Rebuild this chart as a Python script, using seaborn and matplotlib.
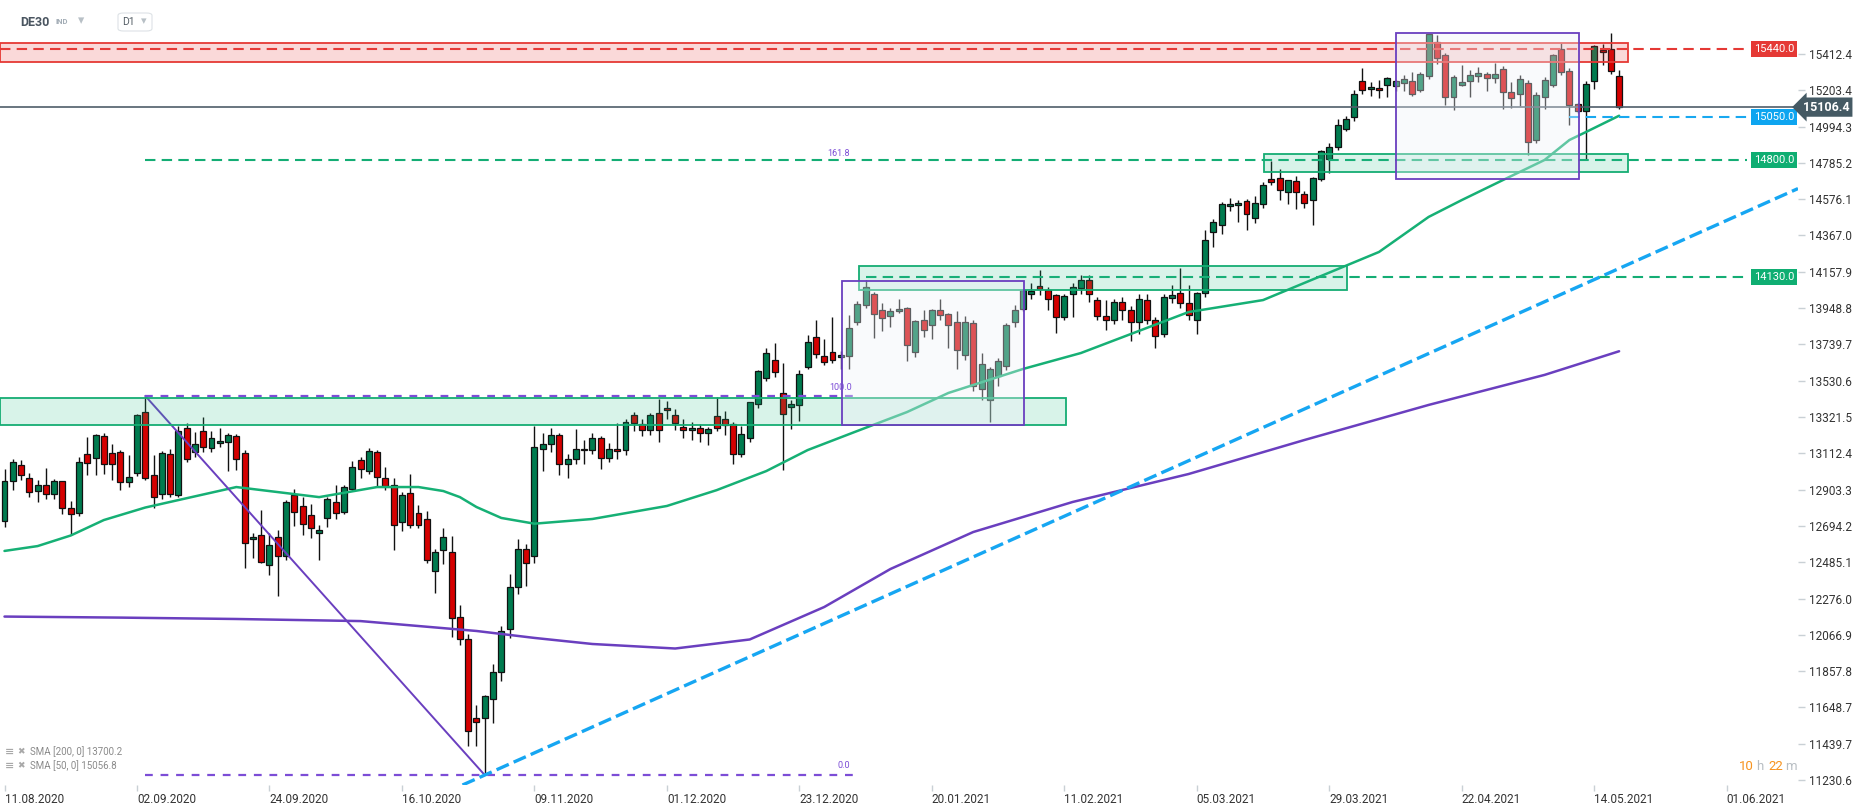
import numpy as np
import pandas as pd
import matplotlib
matplotlib.use('Agg')
import matplotlib.pyplot as plt
from matplotlib.patches import Rectangle, FancyBboxPatch
import seaborn as sns

# ---- daily candles DE30, 11.08.2020 .. 19.05.2021 ----
opens = [
    12720, 12950, 13045, 12970, 12895, 12930, 12880, 12950, 12800, 12770,
    13108, 13085, 13212, 13114, 13120, 12945, 12997, 13350, 12985, 12880,
    13108, 12875, 13258, 13120, 13240, 13143, 13172, 13177, 13212, 13114,
    12618, 12641, 12469, 12630, 12521, 12872, 12809, 12757, 12653, 12740,
    12832, 12774, 12907, 13074, 13010, 13120, 12970, 12930, 12716, 12884,
    12769, 12734, 12434, 12555, 12544, 12170, 12040, 11587, 11587, 11700,
    11850, 12100, 12340, 12560, 12520, 13140, 13165, 13216, 13052, 13077,
    13139, 13134, 13202, 13087, 13137, 13130, 13333, 13281, 13246, 13344,
    13373, 13333, 13264, 13246, 13258, 13230, 13327, 13310, 13281, 13110,
    13200, 13396, 13546, 13650, 13460, 13379, 13390, 13610, 13782, 13673,
    13696, 13667, 13673, 13869, 13966, 14030, 13938, 13903, 13932, 13950,
    13696, 13880, 13852, 13938, 13915, 13869, 13679, 13863, 13480, 13420,
    13560, 13615, 13869, 13944, 14030, 14076, 14053, 14024, 13897, 14030,
    14065, 14111, 13995, 13905, 13880, 13985, 13940, 13870, 13995, 13880,
    13800, 14007, 14036, 13980, 13880, 14036, 14387, 14427, 14537, 14543,
    14566, 14468, 14548, 14692, 14698, 14617, 14681, 14606, 14571, 14692,
    14808, 14877, 14980, 15050, 15257, 15211, 15216, 15234, 15228, 15245,
    15257, 15205, 15286, 15481, 15407, 15165, 15234, 15257, 15286, 15297,
    15274, 15326, 15193, 15182, 15245, 14917, 15165, 15234, 15441, 15315,
    15124, 15084, 15257, 15435, 15441, 15286]

highs = [
    13022, 13080, 13075, 13000, 12960, 13028, 12965, 12955, 12840, 13090,
    13205, 13224, 13230, 13166, 13131, 13102, 13340, 13443, 13102, 13125,
    13140, 13269, 13286, 13235, 13321, 13240, 13258, 13229, 13224, 13130,
    12653, 12786, 12653, 12670, 12843, 12907, 12861, 12820, 12700, 12860,
    12930, 12930, 13068, 13090, 13143, 13131, 13033, 12970, 12890, 12994,
    12815, 12780, 12560, 12682, 12636, 12238, 12070, 11660, 11720, 11900,
    12120, 12420, 12620, 12590, 13271, 13230, 13260, 13230, 13110, 13252,
    13190, 13230, 13210, 13170, 13287, 13310, 13350, 13310, 13344, 13425,
    13413, 13367, 13310, 13290, 13281, 13264, 13437, 13356, 13290, 13270,
    13410, 13592, 13719, 13748, 13633, 13420, 13592, 13794, 13880, 13771,
    13897, 13700, 13909, 13990, 14111, 14040, 13978, 13950, 14001, 13955,
    13880, 13938, 13945, 13999, 13920, 13932, 13903, 13880, 13690, 13610,
    13662, 13862, 13966, 14060, 14094, 14168, 14070, 14030, 14030, 14094,
    14140, 14140, 14010, 13995, 14000, 14010, 13960, 14030, 14030, 13900,
    14030, 14082, 14180, 14082, 14040, 14399, 14462, 14560, 14583, 14570,
    14577, 14595, 14675, 14796, 14750, 14687, 14710, 14623, 14704, 14860,
    14900, 15038, 15055, 15205, 15332, 15251, 15263, 15280, 15265, 15291,
    15309, 15310, 15527, 15522, 15420, 15290, 15349, 15320, 15337, 15310,
    15360, 15343, 15251, 15290, 15263, 15193, 15280, 15412, 15476, 15330,
    15130, 15257, 15464, 15470, 15533, 15320]

lows = [
    12690, 12900, 12960, 12860, 12830, 12850, 12850, 12760, 12640, 12750,
    12990, 12988, 12995, 12960, 12900, 12920, 12982, 12960, 12800, 12850,
    12860, 12860, 13060, 13090, 13120, 13120, 13148, 13010, 13016, 12452,
    12509, 12480, 12412, 12290, 12500, 12694, 12642, 12624, 12498, 12688,
    12734, 12763, 12895, 12970, 12993, 12918, 12900, 12555, 12665, 12680,
    12682, 12480, 12307, 12475, 12054, 12010, 11426, 11426, 11259, 11560,
    11800, 12050, 12300, 12350, 12480, 13010, 13120, 12990, 12970, 13050,
    13050, 13110, 13020, 13060, 13080, 13100, 13240, 13210, 13220, 13180,
    13310, 13246, 13200, 13190, 13180, 13160, 13240, 13220, 13050, 13090,
    13180, 13373, 13530, 13550, 13016, 13250, 13298, 13600, 13661, 13620,
    13630, 13600, 13600, 13850, 13950, 13776, 13817, 13840, 13920, 13644,
    13667, 13782, 13770, 13880, 13719, 13600, 13650, 13470, 13420, 13290,
    13500, 13590, 13840, 13930, 14001, 14024, 13938, 13805, 13880, 13897,
    14030, 13984, 13880, 13820, 13860, 13880, 13760, 13800, 13860, 13720,
    13780, 13980, 13950, 13880, 13800, 14010, 14300, 14376, 14508, 14445,
    14399, 14440, 14525, 14658, 14571, 14549, 14520, 14525, 14428, 14681,
    14727, 14860, 14969, 15026, 15182, 15170, 15159, 15165, 15200, 15199,
    15170, 15193, 15268, 15355, 15119, 15090, 15228, 15165, 15251, 15199,
    15245, 15096, 15101, 15113, 14830, 14900, 15096, 15220, 15290, 15003,
    15070, 14802, 15211, 15349, 15300, 15095]

closes = [
    12950, 13060, 12985, 12890, 12930, 12880, 12950, 12800, 12760, 13062,
    13056, 13218, 13050, 13050, 12945, 12976, 13333, 12970, 12860, 13113,
    12880, 13241, 13079, 13166, 13148, 13200, 13183, 13218, 13079, 12596,
    12630, 12486, 12584, 12521, 12832, 12774, 12705, 12682, 12670, 12849,
    12769, 12918, 13033, 13022, 13126, 12976, 12924, 12700, 12872, 12700,
    12700, 12498, 12544, 12630, 12164, 12040, 11512, 11564, 11714, 11850,
    12090, 12340, 12560, 12480, 13150, 13165, 13216, 13052, 13077, 13139,
    13134, 13202, 13087, 13137, 13127, 13293, 13287, 13246, 13333, 13246,
    13362, 13287, 13246, 13258, 13230, 13250, 13258, 13275, 13110, 13223,
    13408, 13586, 13690, 13581, 13339, 13396, 13569, 13753, 13684, 13638,
    13650, 13679, 13834, 13972, 14069, 13915, 13892, 13932, 13944, 13736,
    13874, 13823, 13938, 13909, 13852, 13707, 13869, 13500, 13627, 13597,
    13644, 13850, 13938, 14053, 14047, 14059, 14001, 13897, 14018, 14070,
    14111, 14030, 13905, 13880, 13985, 13940, 13870, 13999, 13880, 13790,
    14012, 14024, 13980, 13910, 14036, 14341, 14444, 14548, 14548, 14554,
    14491, 14554, 14658, 14675, 14629, 14687, 14618, 14554, 14698, 14854,
    14877, 15003, 15038, 15182, 15205, 15222, 15205, 15274, 15257, 15268,
    15182, 15297, 15527, 15389, 15165, 15280, 15251, 15291, 15303, 15274,
    15297, 15193, 15159, 15268, 14906, 15176, 15263, 15407, 15309, 15119,
    15084, 15240, 15458, 15424, 15315, 15106.4]

# moving averages read at some bars
sma50_bar = [0, 4, 8, 12, 17, 21, 28, 38, 45, 50, 53, 55, 57, 60, 64, 71, 80, 86, 92,
             97, 103, 109, 114, 123, 130, 143, 152, 166, 172, 176, 181, 186, 189, 191, 195]
sma50_val = [12550, 12578, 12639, 12728, 12800, 12843, 12918, 12860, 12918, 12918, 12895,
             12860, 12803, 12740, 12707, 12734, 12809, 12900, 13010, 13131, 13241, 13350,
             13460, 13598, 13690, 13926, 13995, 14272, 14474, 14571, 14687, 14802, 14917,
             14963, 15056.8]
sma200_bar = [0, 14, 28, 43, 57, 64, 71, 81, 90, 99, 107, 117, 129, 143, 157, 172, 186, 195]
sma200_val = [12172, 12166, 12158, 12146, 12089, 12049, 12014, 11988, 12040, 12227, 12446,
              12659, 12832, 12993, 13189, 13391, 13564, 13700.2]

tick_bars = [0, 16, 32, 48, 64, 80, 96, 112, 128, 144, 160, 176, 192, 208]
tick_dates = ['11.08.2020', '02.09.2020', '24.09.2020', '16.10.2020', '09.11.2020',
              '01.12.2020', '23.12.2020', '20.01.2021', '11.02.2021', '05.03.2021',
              '29.03.2021', '22.04.2021', '14.05.2021', '01.06.2021']
price_ticks = [15412.4, 15203.4, 14994.3, 14785.2, 14576.1, 14367.0, 14157.9, 13948.8,
               13739.7, 13530.6, 13321.5, 13112.4, 12903.3, 12694.2, 12485.1, 12276.0,
               12066.9, 11857.8, 11648.7, 11439.7, 11230.6]

levels = [15440.0, 15050.0, 14800.0, 14130.0]
last_price = 15106.4
trend_pts = [(58, 11259), (216.5, 14635)]

# zones (price ranges) and boxes
red_zone = (15366, 15476)
green_zone_hi = (14733, 14836)
green_zone_mid = (14053, 14191)
green_zone_lo = (13275, 13431)
box1 = (101.1, 123.1, 13275, 14105)
box2 = (168.1, 190.2, 14692, 15533)

# ---------------------------------------------------------------
sns.set_theme(style='white')
plt.rcParams['font.family'] = ['Roboto', 'DejaVu Sans']

W, H = 1866, 811
fig = plt.figure(figsize=(W / 100, H / 100), dpi=100)
ax = fig.add_axes([0, 1 - 785 / H, 1798 / W, (785 - 27) / H])

BAR = 8.28
def bx(px):
    return (px - 4.5) / BAR

def py(y):
    # pixel row -> price, only for placing small texts
    return 15723.4 - 5.76 * y

df = pd.DataFrame({'o': opens, 'h': highs, 'l': lows, 'c': closes})
df['i'] = np.arange(len(df))
up = df.c >= df.o
GREEN, RED = '#007b4f', '#d50000'

ax.vlines(df.i, df.l, df.h, color='#111111', lw=1.0, zorder=3)
body_lo = np.minimum(df.o, df.c)
body_h = np.maximum((df.c - df.o).abs(), 5)
ax.bar(df.i, body_h, bottom=body_lo, width=0.72, color=np.where(up, GREEN, RED),
       edgecolor='#111111', linewidth=0.9, zorder=3)

sns.lineplot(x=sma200_bar, y=sma200_val, ax=ax, color='#6a3fbf', lw=1.8, zorder=3.5)
sns.lineplot(x=sma50_bar, y=sma50_val, ax=ax, color='#16b075', lw=1.8, zorder=3.5)

x_end = bx(1747)
# fib
fib_hi, fib_lo = highs[17], lows[58]
ax.plot([17, 58], [fib_hi, fib_lo], color='#6a3fbf', lw=1.4, zorder=4)
for lv in [fib_hi, fib_lo]:
    ax.plot([17, bx(858)], [lv, lv], color='#7c4dd6', lw=1.6, dashes=(3.5, 3.5), zorder=4)
ax.text(bx(829), py(387), '100.0', color='#7c4dd6', fontsize=6.5, va='center', zorder=9)
ax.text(bx(838), py(766), '0.0', color='#7c4dd6', fontsize=6.5, va='center', zorder=9)
ax.text(bx(827), py(153), '161.8', color='#7c4dd6', fontsize=6.5, va='center', zorder=9)

# trend line
ax.axline(trend_pts[0], trend_pts[1], color='#16a6f2', lw=2.4, dashes=(4, 1.6), zorder=4)

# horizontal levels
ax.plot([bx(0), x_end], [levels[0]] * 2, color='#e53935', lw=1.5, dashes=(5, 3), zorder=4)
ax.plot([bx(1569), x_end], [levels[1]] * 2, color='#18a8f0', lw=1.5, dashes=(5, 3), zorder=4)
ax.plot([17, x_end], [levels[2]] * 2, color='#14ad74', lw=1.5, dashes=(5, 3), zorder=4)
ax.plot([bx(866), x_end], [levels[3]] * 2, color='#14ad74', lw=1.5, dashes=(5, 3), zorder=4)
ax.axhline(last_price, color='#4f5d69', lw=1.2, zorder=4)

# zones and boxes on top of candles
def zone(x0, x1, lo, hi, fc, ec, a):
    ax.add_patch(Rectangle((x0, lo), x1 - x0, hi - lo, facecolor=fc, alpha=a,
                           edgecolor='none', zorder=5))
    ax.add_patch(Rectangle((x0, lo), x1 - x0, hi - lo, facecolor='none',
                           edgecolor=ec, lw=1.3, zorder=5))

zone(bx(0), bx(1628), *red_zone, '#e84545', '#e53935', 0.2)
zone(bx(1264), bx(1628), *green_zone_hi, '#2bbd86', '#15ad73', 0.18)
zone(bx(859), bx(1347), *green_zone_mid, '#2bbd86', '#15ad73', 0.18)
zone(bx(0), bx(1066), *green_zone_lo, '#2bbd86', '#15ad73', 0.18)
for b in [box1, box2]:
    zone(b[0], b[1], b[2], b[3], '#eef1f8', '#6a3fbf', 0.35)

# level labels
for lv, col in zip(levels, ['#e53935', '#0ea5f0', '#0fae72', '#0fae72']):
    ax.text(bx(1774), lv, f'{lv:.1f}', ha='center', va='center', color='white', fontsize=8,
            bbox=dict(boxstyle='square,pad=0.28', fc=col, ec='none'), zorder=10, clip_on=False)
ax.text(bx(1826), last_price, f'{last_price:.1f}', ha='center', va='center', color='white',
        fontsize=9, fontweight='bold',
        bbox=dict(boxstyle='larrow,pad=0.25', fc='#455a64', ec='none'), zorder=10, clip_on=False)

ax.set_xlim(bx(0), bx(1798))
ax.set_ylim(py(785), py(27))
for s in ax.spines.values():
    s.set_visible(False)

ax.yaxis.tick_right()
ax.set_yticks(price_ticks)
ax.set_yticklabels([f'{p:.1f}' for p in price_ticks])
ax.tick_params(axis='y', length=5, width=1, color='#c9d0d5', pad=3, labelsize=8.5,
               labelcolor='#333333', right=True, left=False)
ax.set_xticks(tick_bars)
ax.set_xticklabels(tick_dates)
for lab in ax.get_xticklabels():
    lab.set_ha('left')
ax.tick_params(axis='x', length=4, width=1, color='#c9d0d5', pad=2, labelsize=8.5,
               labelcolor='#333333', bottom=True)
ax.grid(False)

# header
fig.text(20 / W, 1 - 22 / H, 'DE30', fontsize=9, fontweight='bold', color='#4a5560', va='center')
fig.text(56 / W, 1 - 22 / H, 'IND', fontsize=5.5, fontweight='bold', color='#a3adb6', va='center')
fig.text(78 / W, 1 - 21 / H, '\u25be', fontsize=9, color='#b8c0c6', va='center')
fig.patches.append(FancyBboxPatch((118 / W, 1 - 31 / H), 34 / W, 18 / H,
                                  boxstyle='round,pad=0,rounding_size=0.003',
                                  transform=fig.transFigure, fc='white', ec='#dde2e6', lw=0.8))
fig.text(122 / W, 1 - 22 / H, 'D1', fontsize=7.5, color='#555e66', va='center')
fig.text(141 / W, 1 - 21 / H, '\u25be', fontsize=8, color='#b8c0c6', va='center')

# indicator legend
for yy, txt in [(752, 'SMA [200, 0] 13700.2'), (766, 'SMA [50, 0] 15056.8')]:
    fig.text(5 / W, 1 - yy / H, '\u2261', fontsize=8, color='#a8a8a8', va='center',
             fontweight='bold')
    fig.text(17 / W, 1 - yy / H, '\u2716', fontsize=6.5, color='#a8a8a8', va='center')
    fig.text(30 / W, 1 - yy / H, txt, fontsize=7, color='#8a8a8a', va='center')

# countdown
for xx, t, c in [(1739, '10', '#f7931e'), (1756, 'h', '#b8bec3'),
                 (1768, '22', '#f7931e'), (1785, 'm', '#b8bec3')]:
    fig.text(xx / W, 1 - 767 / H, t, fontsize=9.5, color=c, va='center')

fig.savefig('out.png', dpi=100)
